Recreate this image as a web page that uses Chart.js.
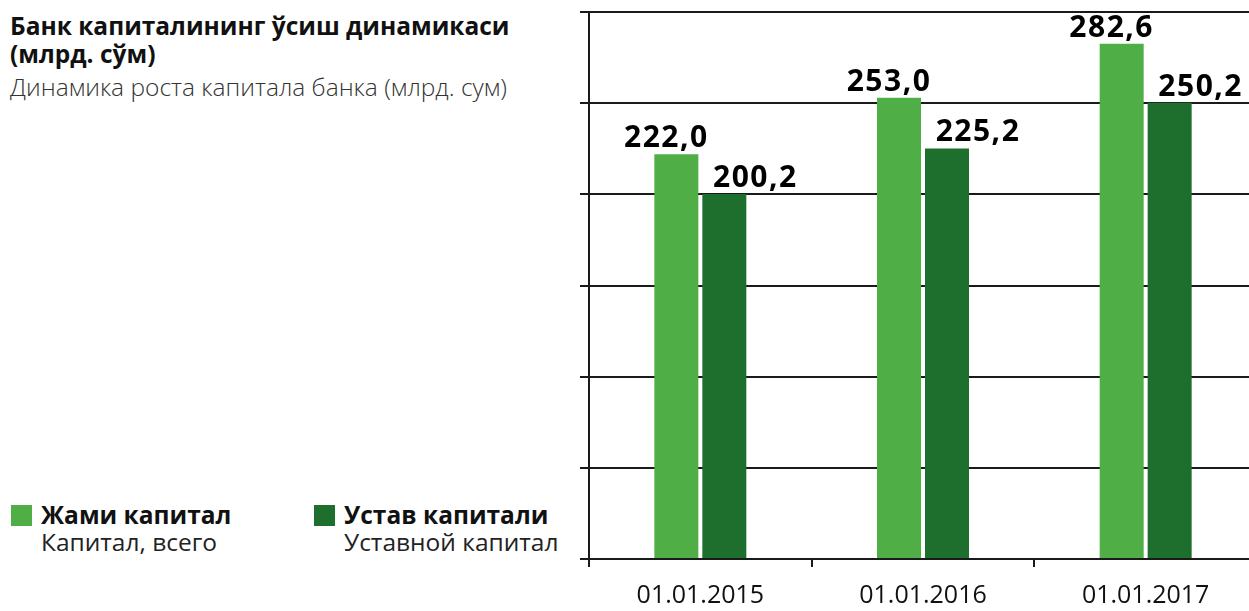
<!DOCTYPE html>
<html>
<head>
<meta charset="utf-8">
<script src="https://cdn.jsdelivr.net/npm/chart.js@4.4.0/dist/chart.umd.min.js"></script>
<style>
  html, body { margin: 0; padding: 0; background: #fff; }
  body { width: 1249px; height: 611px; position: relative; overflow: hidden; font-family: 'Open Sans', sans-serif; }
  #chart { position: absolute; left: 0; top: 0; }
  .title { position: absolute; left: 10px; top: 12px; font-size: 24.5px; font-weight: 700; line-height: 28px; color: #111; white-space: nowrap; }
  .subtitle { position: absolute; left: 10px; top: 70px; font-size: 24.5px; font-weight: 300; color: #333; white-space: nowrap; }
  .legend-item { position: absolute; top: 500px; }
  .legend-item .box { position: absolute; left: 0; top: 5px; width: 21px; height: 21px; }
  .legend-item .main { position: absolute; left: 30px; top: 0; font-size: 24.5px; font-weight: 700; color: #111; white-space: nowrap; line-height: 30px; }
  .legend-item .sub { position: absolute; left: 30px; top: 27px; font-size: 24.5px; color: #222; white-space: nowrap; line-height: 30px; }
</style>
</head>
<body>
<div class="title">Банк капиталининг ўсиш динамикаси<br>(млрд. сўм)</div>
<div class="subtitle">Динамика роста капитала банка (млрд. сум)</div>
<div class="legend-item" style="left: 11px;">
  <div class="box" style="background: #4fae46;"></div>
  <div class="main">Жами капитал</div>
  <div class="sub">Капитал, всего</div>
</div>
<div class="legend-item" style="left: 314px;">
  <div class="box" style="background: #1e6e2e;"></div>
  <div class="main">Устав капитали</div>
  <div class="sub">Уставной капитал</div>
</div>
<canvas id="chart" width="1257" height="611"></canvas>
<script>
// data
const dates = ['01.01.2015', '01.01.2016', '01.01.2017'];
const total_capital = [222.0, 253.0, 282.6];   // Жами капитал
const charter_capital = [200.2, 225.2, 250.2]; // Устав капитали

const light_green = '#4fae46';
const dark_green = '#1e6e2e';
const line_color = '#1a1a1a';

// value labels over the bars, shifted sideways like in the print
const value_labels = {
    id: 'value_labels',
    afterDatasetsDraw(chart) {
        let ctx = chart.ctx;
        ctx.save();
        ctx.font = 'bold 30px "Open Sans"';
        ctx.letterSpacing = '1.5px';
        ctx.fillStyle = '#000';
        ctx.textAlign = 'center';
        ctx.textBaseline = 'alphabetic';
        let shift = [-10, 31];
        chart.data.datasets.forEach((ds, i) => {
            let meta = chart.getDatasetMeta(i);
            meta.data.forEach((bar, j) => {
                let txt = ds.data[j].toFixed(1).replace('.', ',');
                ctx.fillText(txt, bar.x + shift[i], bar.y - 7);
            });
        });
        ctx.restore();
    }
};

let ctx = document.getElementById('chart');
let chart = new Chart(ctx, {
    type: 'bar',
    data: {
        labels: dates,
        datasets: [
            {
                label: 'Жами капитал',
                data: total_capital,
                backgroundColor: light_green,
                categoryPercentage: 0.431,
                barPercentage: 0.917
            },
            {
                label: 'Устав капитали',
                data: charter_capital,
                backgroundColor: dark_green,
                categoryPercentage: 0.431,
                barPercentage: 0.917
            }
        ]
    },
    options: {
        responsive: false,
        animation: false,
        devicePixelRatio: 1,
        layout: { padding: { left: 580, top: 12, right: 0, bottom: 0 } },
        plugins: {
            legend: { display: false },
            tooltip: { enabled: false }
        },
        scales: {
            y: {
                min: 0,
                max: 300,
                ticks: { stepSize: 50, display: false },
                grid: { color: line_color, lineWidth: 2, tickLength: 9 },
                border: { display: true, color: line_color, width: 2 },
                afterFit: (s) => { s.width = 9; }
            },
            x: {
                grid: { drawOnChartArea: false, color: line_color, lineWidth: 2, tickLength: 8, offset: true },
                border: { display: true, color: line_color, width: 2 },
                ticks: { color: '#111', font: { family: 'Open Sans', size: 25 }, padding: 14, maxRotation: 0 },
                afterFit: (s) => { s.height = 52; }
            }
        }
    },
    plugins: [value_labels]
});
</script>
</body>
</html>
